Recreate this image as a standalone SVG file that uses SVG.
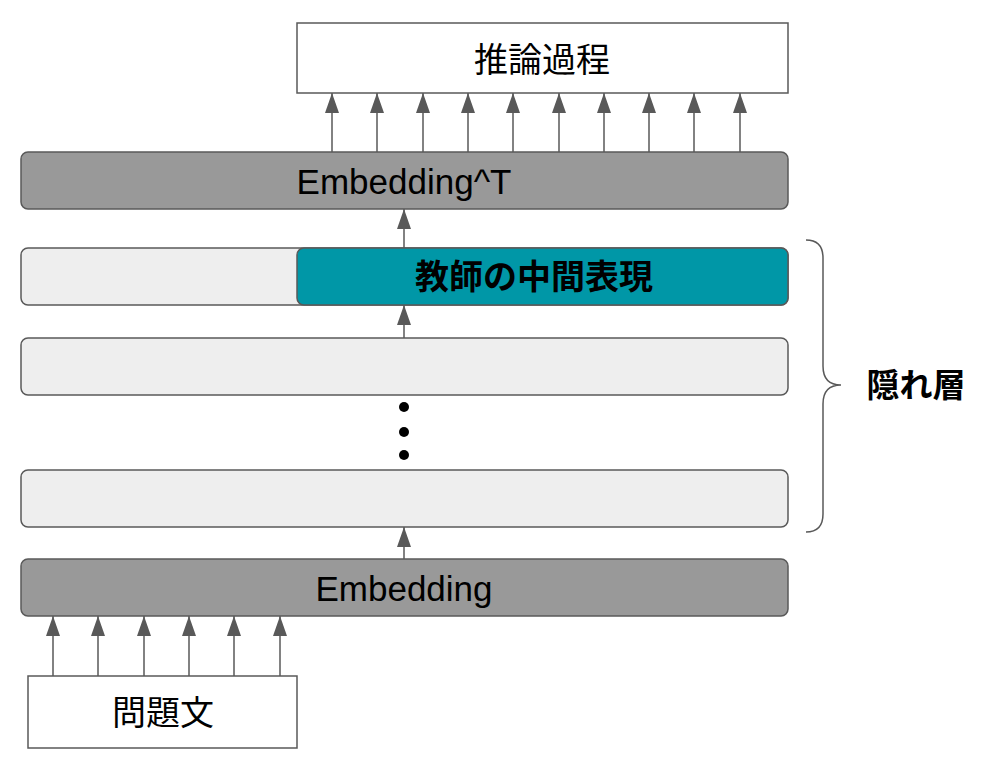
<svg xmlns="http://www.w3.org/2000/svg" width="990" height="768" viewBox="0 0 990 768">
<style>
.box{fill:#ffffff;stroke:#595959;stroke-width:1.5}
.dark{fill:#999999;stroke:#595959;stroke-width:1.5}
.light{fill:#eeeeee;stroke:#595959;stroke-width:1.5}
.teal{fill:#0097a7;stroke:#595959;stroke-width:1.5}
.t{font-family:"Liberation Sans","Noto Sans CJK JP",sans-serif;fill:#000;text-anchor:middle;dominant-baseline:central}
.con line{stroke:#595959;stroke-width:1.5}
</style>
<defs>
<marker id="ah" markerWidth="14" markerHeight="20" refX="7" refY="0" orient="0" markerUnits="userSpaceOnUse" viewBox="0 0 14 20">
<path d="M0,20 L7,0 L14,20 Z" fill="#595959"/>
</marker>
</defs>
<g id="output"><rect class="box" x="297" y="23" width="491" height="70"/><text class="t" x="542" y="60" font-size="34">推論過程</text></g>
<g id="embT"><rect class="dark" x="21" y="152" width="767" height="57" rx="7"/><text class="t" x="404" y="181" font-size="35">Embedding^T</text></g>
<g id="hidden1"><rect class="light" x="21" y="248" width="767" height="57" rx="7"/></g>
<g id="teacher"><rect class="teal" x="297" y="248" width="491" height="57" rx="7"/><text class="t" x="534" y="277" font-size="34" font-weight="bold">教師の中間表現</text></g>
<g id="hidden2"><rect class="light" x="21" y="338" width="767" height="57" rx="7"/></g>
<g id="dots"><circle cx="404" cy="407" r="5"/><circle cx="404" cy="432" r="5"/><circle cx="404" cy="455" r="5"/></g>
<g id="hidden3"><rect class="light" x="21" y="470" width="767" height="57" rx="7"/></g>
<g id="emb"><rect class="dark" x="21" y="559" width="767" height="57" rx="7"/><text class="t" x="404" y="588" font-size="35">Embedding</text></g>
<g id="input"><rect class="box" x="28" y="676" width="269" height="72"/><text class="t" x="163" y="713" font-size="34">問題文</text></g>
<g id="brace"><path d="M806,240 Q823,240 823,258 L823,366 Q823,385 841,385 Q823,385 823,404 L823,514 Q823,532 806,532" fill="none" stroke="#595959" stroke-width="1.5"/></g>
<g id="label"><text class="t" x="916" y="385" font-size="33" font-weight="bold">隠れ層</text></g>
<g class="con" id="connectors">
<line x1="332" y1="152" x2="332" y2="93" marker-end="url(#ah)"/>
<line x1="377" y1="152" x2="377" y2="93" marker-end="url(#ah)"/>
<line x1="423" y1="152" x2="423" y2="93" marker-end="url(#ah)"/>
<line x1="468" y1="152" x2="468" y2="93" marker-end="url(#ah)"/>
<line x1="513" y1="152" x2="513" y2="93" marker-end="url(#ah)"/>
<line x1="559" y1="152" x2="559" y2="93" marker-end="url(#ah)"/>
<line x1="604" y1="152" x2="604" y2="93" marker-end="url(#ah)"/>
<line x1="649" y1="152" x2="649" y2="93" marker-end="url(#ah)"/>
<line x1="694" y1="152" x2="694" y2="93" marker-end="url(#ah)"/>
<line x1="740" y1="152" x2="740" y2="93" marker-end="url(#ah)"/>
<line x1="404" y1="248" x2="404" y2="209" marker-end="url(#ah)"/>
<line x1="404" y1="338" x2="404" y2="305" marker-end="url(#ah)"/>
<line x1="404" y1="559" x2="404" y2="527" marker-end="url(#ah)"/>
<line x1="53" y1="676" x2="53" y2="616" marker-end="url(#ah)"/>
<line x1="98" y1="676" x2="98" y2="616" marker-end="url(#ah)"/>
<line x1="144" y1="676" x2="144" y2="616" marker-end="url(#ah)"/>
<line x1="189" y1="676" x2="189" y2="616" marker-end="url(#ah)"/>
<line x1="234" y1="676" x2="234" y2="616" marker-end="url(#ah)"/>
<line x1="280" y1="676" x2="280" y2="616" marker-end="url(#ah)"/>
</g>
</svg>
